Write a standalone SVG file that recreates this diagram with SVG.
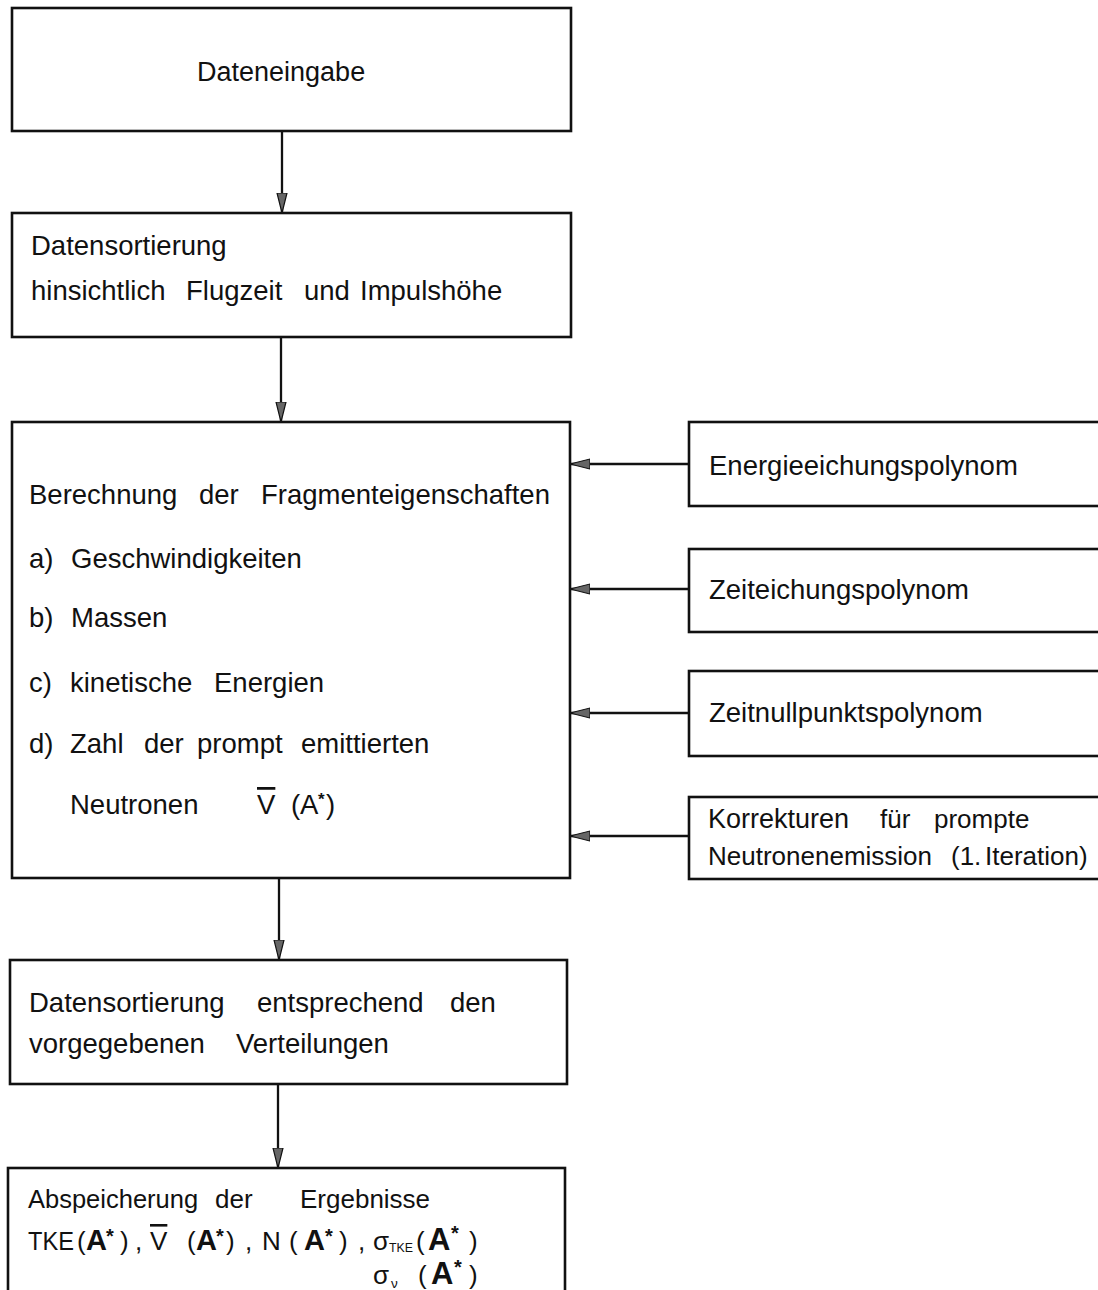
<svg xmlns="http://www.w3.org/2000/svg" width="1098" height="1290" viewBox="0 0 1098 1290">
<style>
.box{fill:none;stroke:#111;stroke-width:2.6}
.t{font-family:"Liberation Sans",Arial,sans-serif;font-size:27.5px;fill:#111}
.s{font-size:26px}
.c{stroke:#111;stroke-width:2.3;fill:none}
.b{font-weight:bold;font-size:29px}
.sup{font-size:20px;font-weight:bold}
.sup2{font-size:17px;font-weight:bold}
.sub{font-size:13.5px}
.ov{text-decoration:overline}
</style>
<defs>
<marker id="ah" viewBox="0 0 20 12" refX="20" refY="6" markerWidth="20" markerHeight="12" markerUnits="userSpaceOnUse" orient="auto">
<path d="M0,1 L20,6 L0,11 Z" fill="#666" stroke="#111" stroke-width="1.2"/>
</marker>
</defs>
<rect width="1098" height="1290" fill="#fff"/>

<g id="n1">
<rect class="box" x="12" y="8" width="559" height="123"/>
<text class="t" x="197" y="81" style="font-size:27px">Dateneingabe</text>
</g>

<g id="n2">
<rect class="box" x="12" y="213" width="559" height="124"/>
<text class="t" x="31" y="255">Datensortierung</text>
<text class="t" y="300"><tspan x="31">hinsichtlich</tspan><tspan x="186">Flugzeit</tspan><tspan x="304">und</tspan><tspan x="360">Impulshöhe</tspan></text>
</g>

<g id="n3">
<rect class="box" x="12" y="422" width="558" height="456"/>
<text class="t" y="504"><tspan x="29">Berechnung</tspan><tspan x="199">der</tspan><tspan x="261">Fragmenteigenschaften</tspan></text>
<text class="t" y="568"><tspan x="29">a)</tspan><tspan x="71">Geschwindigkeiten</tspan></text>
<text class="t" y="627"><tspan x="29">b)</tspan><tspan x="71">Massen</tspan></text>
<text class="t" y="692"><tspan x="29">c)</tspan><tspan x="70">kinetische</tspan><tspan x="214">Energien</tspan></text>
<text class="t" y="753"><tspan x="29">d)</tspan><tspan x="70">Zahl</tspan><tspan x="144">der</tspan><tspan x="197">prompt</tspan><tspan x="301">emittierten</tspan></text>
<text class="t" y="814"><tspan x="70">Neutronen</tspan><tspan x="257" class="ov">V</tspan><tspan x="291">(</tspan><tspan x="300">A</tspan><tspan class="sup2" x="318" dy="-9">*</tspan><tspan x="326" dy="9">)</tspan></text>
</g>

<g id="n4">
<rect class="box" x="689" y="422" width="420" height="84"/>
<text class="t" x="709" y="475">Energieeichungspolynom</text>
</g>
<g id="n5">
<rect class="box" x="689" y="549" width="420" height="83"/>
<text class="t" x="709" y="599">Zeiteichungspolynom</text>
</g>
<g id="n6">
<rect class="box" x="689" y="671" width="420" height="85"/>
<text class="t" x="709" y="722">Zeitnullpunktspolynom</text>
</g>
<g id="n7">
<rect class="box" x="689" y="797" width="420" height="82"/>
<text class="t s" y="828"><tspan x="708" style="font-size:27px">Korrekturen</tspan><tspan x="880">für</tspan><tspan x="934">prompte</tspan></text>
<text class="t s" y="865"><tspan x="708">Neutronenemission</tspan><tspan x="951">(1.</tspan><tspan x="985">Iteration)</tspan></text>
</g>

<g id="n8">
<rect class="box" x="10" y="960" width="557" height="124"/>
<text class="t" y="1012"><tspan x="29">Datensortierung</tspan><tspan x="257">entsprechend</tspan><tspan x="450">den</tspan></text>
<text class="t" y="1053"><tspan x="29">vorgegebenen</tspan><tspan x="236">Verteilungen</tspan></text>
</g>

<g id="n9">
<rect class="box" x="8" y="1168" width="557" height="140"/>
<text class="t s" y="1208"><tspan x="28" style="font-size:25.5px">Abspeicherung</tspan><tspan x="215">der</tspan><tspan x="300">Ergebnisse</tspan></text>
<text class="t s" y="1250"><tspan x="28" textLength="46" lengthAdjust="spacingAndGlyphs">TKE</tspan><tspan x="77">(</tspan><tspan x="86" class="b">A</tspan><tspan class="sup" x="106" dy="-7">*</tspan><tspan x="120" dy="7">)</tspan><tspan x="135">,</tspan><tspan x="150" class="ov">V</tspan><tspan x="187">(</tspan><tspan x="196" class="b">A</tspan><tspan class="sup" x="216" dy="-7">*</tspan><tspan x="226" dy="7">)</tspan><tspan x="245">,</tspan><tspan x="262">N</tspan><tspan x="289">(</tspan><tspan x="304" class="b">A</tspan><tspan class="sup" x="325" dy="-7">*</tspan><tspan x="339" dy="7">)</tspan><tspan x="358">,</tspan><tspan x="373">σ</tspan><tspan class="sub" x="389" dy="2" textLength="24" lengthAdjust="spacingAndGlyphs">TKE</tspan><tspan x="416" dy="-2">(</tspan><tspan x="428" class="b" style="font-size:31px">A</tspan><tspan class="sup" x="451" dy="-10">*</tspan><tspan x="469" dy="10">)</tspan></text>
<text class="t s" y="1284"><tspan x="373">σ</tspan><tspan class="sub" x="391" dy="4">ν</tspan><tspan x="418" dy="-4">(</tspan><tspan x="431" class="b" style="font-size:31px">A</tspan><tspan class="sup" x="454" dy="-10">*</tspan><tspan x="469" dy="10">)</tspan></text>
</g>

<g id="connectors">
<line class="c" x1="282" y1="131" x2="282" y2="213" marker-end="url(#ah)"/>
<line class="c" x1="281" y1="337" x2="281" y2="422" marker-end="url(#ah)"/>
<line class="c" x1="279" y1="878" x2="279" y2="960" marker-end="url(#ah)"/>
<line class="c" x1="278" y1="1084" x2="278" y2="1168" marker-end="url(#ah)"/>
<line class="c" x1="689" y1="464" x2="570" y2="464" marker-end="url(#ah)"/>
<line class="c" x1="689" y1="589" x2="570" y2="589" marker-end="url(#ah)"/>
<line class="c" x1="689" y1="713" x2="570" y2="713" marker-end="url(#ah)"/>
<line class="c" x1="689" y1="836" x2="570" y2="836" marker-end="url(#ah)"/>
</g>
</svg>
